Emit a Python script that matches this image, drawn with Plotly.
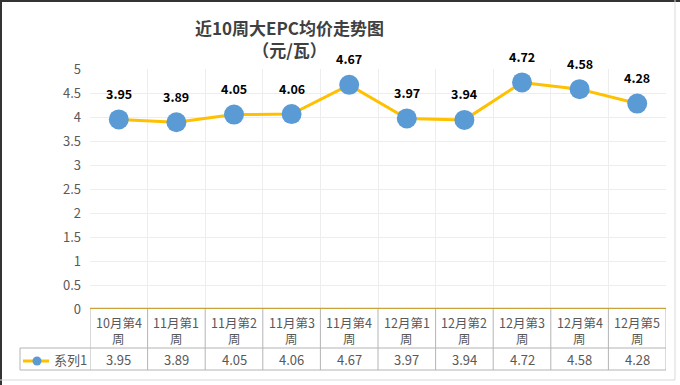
import plotly.graph_objects as go

categories = ["10月第4周", "11月第1周", "11月第2周", "11月第3周", "11月第4周",
              "12月第1周", "12月第2周", "12月第3周", "12月第4周", "12月第5周"]
values = [3.95, 3.89, 4.05, 4.06, 4.67, 3.97, 3.94, 4.72, 4.58, 4.28]
series_name = "系列1"
title_line1 = "近10周大EPC均价走势图"
title_line2 = "（元/瓦）"
y_ticks = [0, 0.5, 1, 1.5, 2, 2.5, 3, 3.5, 4, 4.5, 5]

W, H = 680, 385
L, R, T, B = 90, 14, 69, 76
PW, PH = W - L - R, H - T - B

def px_x(p):  # pixel -> paper x
    return (p - L) / PW

def px_y(p):  # pixel (from top) -> paper y
    return (H - B - p) / PH

FONT = "Noto Sans CJK SC, Noto Sans, sans-serif"
GREY = "#595959"
TBL = "#B4B4B4"

x = list(range(len(categories)))

fig = go.Figure()
fig.add_trace(go.Scatter(
    x=x, y=values, mode="lines+markers",
    line=dict(color="#FFC000", width=3),
    marker=dict(color="#5B9BD5", size=20, line=dict(width=0)),
    name=series_name, showlegend=False, hoverinfo="skip"))

ann = []
for xi, v in zip(x, values):
    ann.append(dict(x=xi, y=v, xref="x", yref="y", text=f"<b>{v:.2f}</b>",
                    showarrow=False, yshift=26, xanchor="center", yanchor="middle",
                    font=dict(family=FONT, size=12.5, color="#000000")))

row1_bot = px_y(348)
row2_bot = px_y(370)
row1_l1 = px_y(322)
row1_l2 = px_y(338)
row2_mid = px_y(359.5)

for xi, c in zip(x, categories):
    ann.append(dict(x=xi, y=row1_l1, xref="x", yref="paper",
                    text=c[:-1], showarrow=False,
                    xanchor="center", yanchor="middle", borderpad=0,
                    font=dict(family=FONT, size=12.5, color=GREY)))
    ann.append(dict(x=xi, y=row1_l2, xref="x", yref="paper",
                    text=c[-1], showarrow=False,
                    xanchor="center", yanchor="middle", borderpad=0,
                    font=dict(family=FONT, size=12.5, color=GREY)))
for xi, v in zip(x, values):
    ann.append(dict(x=xi, y=row2_mid, xref="x", yref="paper",
                    text=f"{v:.2f}", showarrow=False,
                    xanchor="center", yanchor="middle",
                    font=dict(family=FONT, size=13, color=GREY)))

ann.append(dict(x=px_x(52), y=row2_mid, xref="paper", yref="paper",
                text=series_name, showarrow=False, xanchor="left", yanchor="middle",
                font=dict(family=FONT, size=13, color=GREY)))
ann.append(dict(x=px_x(289), y=px_y(38.5), xref="paper", yref="paper",
                text="<b>" + title_line1 + "</b><br><b>" + title_line2 + "</b>",
                showarrow=False, xanchor="center", yanchor="middle",
                font=dict(family=FONT, size=17, color="#404040")))

shapes = []
n = len(categories)
# table vertical lines
for i in range(n + 1):
    shapes.append(dict(type="line", xref="x", yref="paper",
                       x0=i - 0.5, x1=i - 0.5, y0=0, y1=row2_bot,
                       line=dict(color=TBL, width=1)))
# table horizontal lines
for yy in (row1_bot, row2_bot):
    shapes.append(dict(type="line", xref="paper", yref="paper",
                       x0=px_x(20), x1=1, y0=yy, y1=yy,
                       line=dict(color=TBL, width=1)))
shapes.append(dict(type="line", xref="paper", yref="paper",
                   x0=px_x(20), x1=px_x(20), y0=row1_bot, y1=row2_bot,
                   line=dict(color=TBL, width=1)))
# axis line (gold)
shapes.append(dict(type="line", xref="paper", yref="y", x0=0, x1=1, y0=0, y1=0,
                   line=dict(color="#C9A23A", width=2.5)))
# legend key
shapes.append(dict(type="line", xref="paper", yref="paper",
                   x0=px_x(23), x1=px_x(49), y0=px_y(361), y1=px_y(361),
                   line=dict(color="#FFC000", width=3)))
shapes.append(dict(type="circle", xref="paper", yref="paper",
                   x0=px_x(32.5), x1=px_x(41.5), y0=px_y(356.5), y1=px_y(365.5),
                   fillcolor="#5B9BD5", line=dict(width=0)))
# outer frame
shapes.append(dict(type="line", xref="paper", yref="paper",
                   x0=px_x(1), x1=px_x(1), y0=px_y(0), y1=px_y(385),
                   line=dict(color="#333333", width=2)))
shapes.append(dict(type="line", xref="paper", yref="paper",
                   x0=px_x(0), x1=px_x(680), y0=px_y(1), y1=px_y(1),
                   line=dict(color="#333333", width=2)))
shapes.append(dict(type="line", xref="paper", yref="paper",
                   x0=px_x(675), x1=px_x(675), y0=px_y(0), y1=px_y(380),
                   line=dict(color="#D9D9D9", width=1)))
shapes.append(dict(type="line", xref="paper", yref="paper",
                   x0=px_x(0), x1=px_x(675), y0=px_y(380), y1=px_y(380),
                   line=dict(color="#D9D9D9", width=1)))

fig.update_layout(
    width=W, height=H,
    margin=dict(l=L, r=R, t=T, b=B),
    paper_bgcolor="white", plot_bgcolor="white",
    xaxis=dict(range=[-0.5, n - 0.5], tickvals=[i - 0.5 for i in range(n + 1)],
               showticklabels=False, showgrid=True, gridcolor="#EDEDED",
               zeroline=False, showline=False, ticks=""),
    yaxis=dict(range=[0, 5], tickvals=y_ticks, ticktext=[f"{t:g}" for t in y_ticks],
               showgrid=True, gridcolor="#EDEDED", zeroline=False, showline=False,
               tickfont=dict(family=FONT, size=13, color=GREY), ticks="",
               ticklabelstandoff=8),
    annotations=ann, shapes=shapes,
)

fig.write_html("out.html", config={"displayModeBar": False},
               post_script="document.body.style.margin='0px';document.body.style.overflow='hidden';")
